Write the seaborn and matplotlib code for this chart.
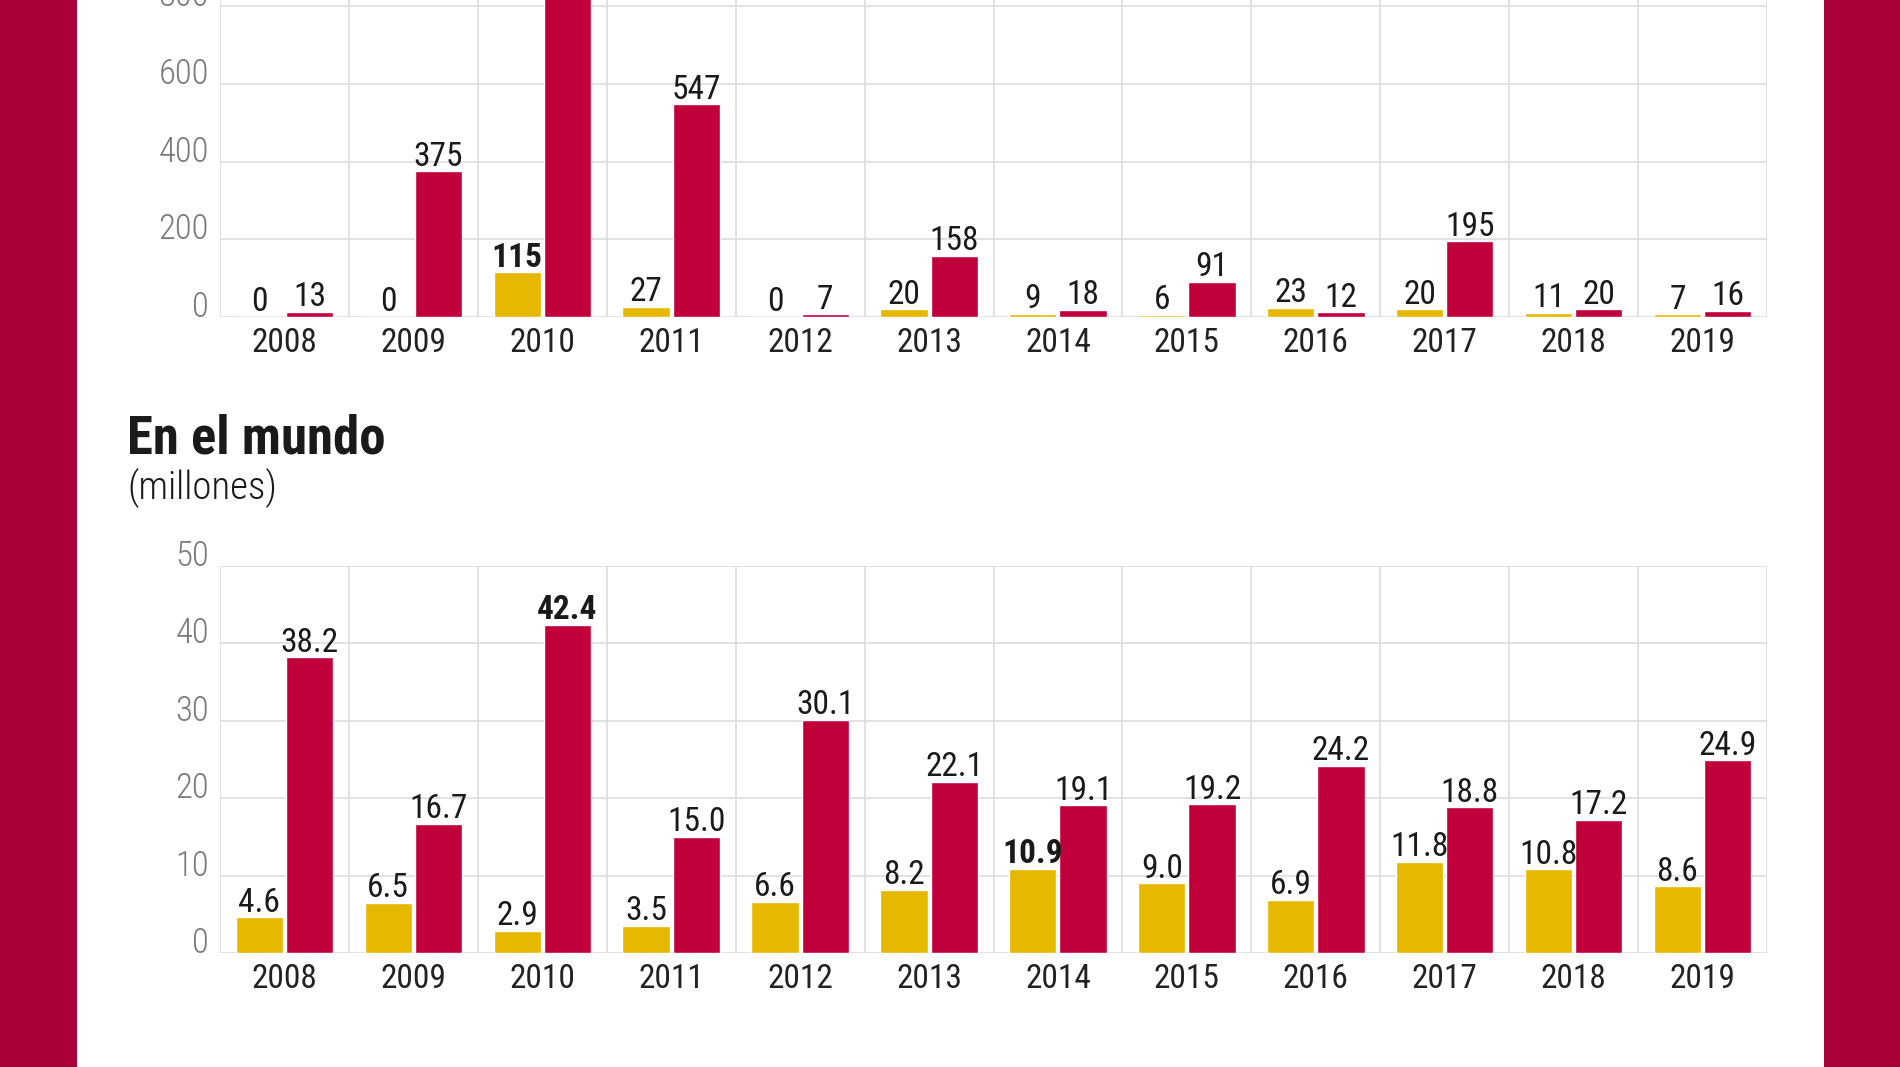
import numpy as np
import pandas as pd
import matplotlib
matplotlib.use('Agg')
import matplotlib.pyplot as plt
from matplotlib.patches import Rectangle
from matplotlib import font_manager
import seaborn as sns

# ------------------------------------------------------------
# data
# ------------------------------------------------------------
years = ['2008', '2009', '2010', '2011', '2012', '2013',
         '2014', '2015', '2016', '2017', '2018', '2019']

# top chart (cut off at the top of the picture)
top_yellow = [0, 0, 115, 27, 0, 20, 9, 6, 23, 20, 11, 7]
top_red = [13, 375, 1000, 547, 7, 158, 18, 91, 12, 195, 20, 16]  # 2010 red goes off the picture

# "En el mundo" (millones)
world_yellow = [4.6, 6.5, 2.9, 3.5, 6.6, 8.2, 10.9, 9.0, 6.9, 11.8, 10.8, 8.6]
world_red = [38.2, 16.7, 42.4, 15.0, 30.1, 22.1, 19.1, 19.2, 24.2, 18.8, 17.2, 24.9]

top_yticks = [0, 200, 400, 600, 800]
world_yticks = [0, 10, 20, 30, 40, 50]

YELLOW = '#E6B800'
RED = '#C1003B'
BAND = '#A9003A'
GRID = '#DDDDDD'

sns.set_theme(style='white')

# pick a narrow font if there is one
names = {f.name for f in font_manager.fontManager.ttflist}
narrow = [n for n in ['Roboto Condensed', 'Liberation Sans Narrow', 'Open Sans Condensed',
                      'Arial Narrow'] if n in names]
condensed_dv = any(f.name == 'DejaVu Sans' and f.stretch == 'condensed'
                   for f in font_manager.fontManager.ttflist)
plt.rcParams['font.family'] = narrow + ['DejaVu Sans']
if not narrow and condensed_dv:
    plt.rcParams['font.stretch'] = 'condensed'


def long_df(yel, red):
    return pd.DataFrame({
        'year': years * 2,
        'serie': ['a'] * len(years) + ['b'] * len(years),
        'valor': yel + red,
    })


def draw(ax, yel, red, ylim, yticks, fmt, bold):
    df = long_df(yel, red)
    sns.barplot(data=df, x='year', y='valor', hue='serie', palette=[YELLOW, RED],
                width=0.78, gap=0.06, legend=False, ax=ax, saturation=1)
    ax.set_xlim(-0.5, len(years) - 0.5)
    ax.set_ylim(*ylim)
    ax.set_yticks(yticks)
    ax.set_xticks(np.arange(len(years) + 1) - 0.5, minor=True)
    ax.grid(True, which='minor', axis='x', color=GRID, lw=1.2)
    ax.grid(True, which='major', axis='y', color=GRID, lw=1.2)
    ax.set_axisbelow(True)
    for s in ax.spines.values():
        s.set_visible(False)
    ax.tick_params(axis='x', which='both', length=0, pad=7, labelsize=24, labelcolor='#222222')
    ax.tick_params(axis='y', length=0, pad=8, labelsize=25, labelcolor='#7a7a7a')
    for t in ax.get_yticklabels():
        t.set_verticalalignment('baseline')
        t.set_fontweight('light')
    ax.set_xlabel('')
    ax.set_ylabel('')
    for c, vals in zip(ax.containers, [yel, red]):
        texts = ax.bar_label(c, labels=[fmt.format(v) for v in vals], padding=-1,
                             fontsize=24, color='#1a1a1a')
        for t in texts:
            if t.get_text() in bold:
                t.set_fontweight('bold')


fig = plt.figure(figsize=(19, 10.67), dpi=100)
fig.patch.set_facecolor('white')
for x0, x1 in [(0, 77), (1824, 1900)]:
    fig.patches.append(Rectangle((x0 / 1900, 0), (x1 - x0) / 1900, 1,
                                 transform=fig.transFigure, facecolor=BAND,
                                 edgecolor='none'))

# top chart: zero line at y=317px, 200 units = 77.7 px
px = 77.7 / 200
top_max = 900
ax1 = fig.add_axes([220 / 1900, (1067 - 317) / 1067, (1767 - 220) / 1900, top_max * px / 1067])
draw(ax1, top_yellow, top_red, (0, top_max), top_yticks, '{:d}', {'115'})

# bottom chart
ax2 = fig.add_axes([220 / 1900, (1067 - 953) / 1067, (1767 - 220) / 1900, (953 - 566) / 1067])
draw(ax2, world_yellow, world_red, (0, 50), world_yticks, '{:.1f}', {'42.4', '10.9'})

fig.text(127 / 1900, 1 - 439 / 1067, 'En el mundo', fontsize=38, fontweight='bold',
         color='#1a1a1a', va='center', ha='left')
fig.text(127 / 1900, 1 - 488 / 1067, '(millones)', fontsize=28, fontweight='light',
         color='#1a1a1a', va='center', ha='left')

plt.savefig('out.png', dpi=100, facecolor=fig.get_facecolor())
